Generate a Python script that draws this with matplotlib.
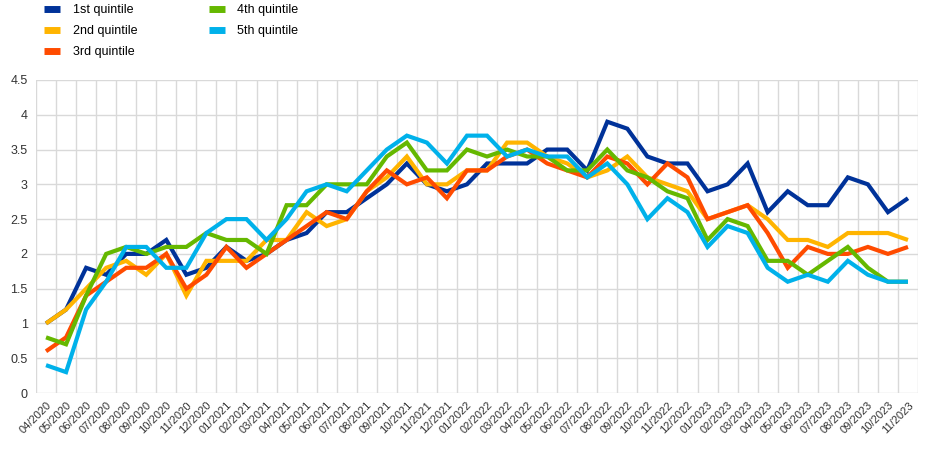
import numpy as np
import matplotlib
matplotlib.use("Agg")
import matplotlib.pyplot as plt
from matplotlib.lines import Line2D

plt.rcParams["font.family"] = ["Liberation Sans", "DejaVu Sans"]

# monthly labels 04/2020 .. 11/2023
months = []
for y in range(2020, 2024):
    for m in range(1, 13):
        if (y == 2020 and m < 4) or (y == 2023 and m > 11):
            continue
        months.append(f"{m:02d}/{y}")

q1 = [1.0, 1.2, 1.8, 1.7, 2.0, 2.0, 2.2, 1.7, 1.8, 2.1, 1.9, 2.0, 2.2, 2.3, 2.6,
      2.6, 2.8, 3.0, 3.3, 3.0, 2.9, 3.0, 3.3, 3.3, 3.3, 3.5, 3.5, 3.2, 3.9, 3.8,
      3.4, 3.3, 3.3, 2.9, 3.0, 3.3, 2.6, 2.9, 2.7, 2.7, 3.1, 3.0, 2.6, 2.8]
q2 = [1.0, 1.2, 1.5, 1.8, 1.9, 1.7, 2.0, 1.4, 1.9, 1.9, 1.9, 2.2, 2.2, 2.6, 2.4,
      2.5, 2.9, 3.1, 3.4, 3.0, 3.0, 3.2, 3.2, 3.6, 3.6, 3.4, 3.3, 3.1, 3.2, 3.4,
      3.1, 3.0, 2.9, 2.5, 2.6, 2.7, 2.5, 2.2, 2.2, 2.1, 2.3, 2.3, 2.3, 2.2]
q3 = [0.6, 0.8, 1.4, 1.6, 1.8, 1.8, 2.0, 1.5, 1.7, 2.1, 1.8, 2.0, 2.2, 2.4, 2.6,
      2.5, 2.9, 3.2, 3.0, 3.1, 2.8, 3.2, 3.2, 3.4, 3.5, 3.3, 3.2, 3.1, 3.4, 3.3,
      3.0, 3.3, 3.1, 2.5, 2.6, 2.7, 2.3, 1.8, 2.1, 2.0, 2.0, 2.1, 2.0, 2.1]
q4 = [0.8, 0.7, 1.4, 2.0, 2.1, 2.0, 2.1, 2.1, 2.3, 2.2, 2.2, 2.0, 2.7, 2.7, 3.0,
      3.0, 3.0, 3.4, 3.6, 3.2, 3.2, 3.5, 3.4, 3.5, 3.4, 3.4, 3.2, 3.2, 3.5, 3.2,
      3.1, 2.9, 2.8, 2.2, 2.5, 2.4, 1.9, 1.9, 1.7, 1.9, 2.1, 1.8, 1.6, 1.6]
q5 = [0.4, 0.3, 1.2, 1.6, 2.1, 2.1, 1.8, 1.8, 2.3, 2.5, 2.5, 2.2, 2.5, 2.9, 3.0,
      2.9, 3.2, 3.5, 3.7, 3.6, 3.3, 3.7, 3.7, 3.4, 3.5, 3.4, 3.4, 3.1, 3.3, 3.0,
      2.5, 2.8, 2.6, 2.1, 2.4, 2.3, 1.8, 1.6, 1.7, 1.6, 1.9, 1.7, 1.6, 1.6]

series = [
    ("1st quintile", q1, "#003299"),
    ("2nd quintile", q2, "#FFB400"),
    ("3rd quintile", q3, "#FF4B00"),
    ("4th quintile", q4, "#65B800"),
    ("5th quintile", q5, "#00B1EA"),
]

fig = plt.figure(figsize=(9.43, 4.49), dpi=100)
ax = fig.add_axes([36 / 943, 1 - 393 / 449, (918 - 36) / 943, (393 - 80) / 449])

x = np.arange(len(months))
# same order as the source: 5th quintile ends up on top
for name, vals, col in series:
    ax.plot(x, vals, color=col, linewidth=3.0, solid_joinstyle="miter",
            solid_capstyle="butt")

ax.set_xlim(-0.5, len(months) - 0.5)
ax.set_ylim(0, 4.5)
ax.set_yticks(np.arange(0, 4.51, 0.5))
ax.set_yticklabels([f"{v:g}" for v in np.arange(0, 4.51, 0.5)])
ax.set_xticks(x)
ax.set_xticklabels(months, rotation=45, ha="right", rotation_mode="anchor")
ax.set_xticks(np.arange(-0.5, len(months), 1), minor=True)

ax.tick_params(axis="both", which="both", length=0, labelsize=9, colors="#333333")
ax.tick_params(axis="x", labelsize=8, pad=5)
ax.tick_params(axis="y", pad=6)

ax.grid(True, axis="y", which="major", color="#d9d9d9", linewidth=1)
ax.grid(True, axis="x", which="minor", color="#d9d9d9", linewidth=1)
ax.set_axisbelow(True)
for s in ax.spines.values():
    s.set_visible(False)

handles = [Line2D([], [], color=c, linewidth=5, solid_capstyle="butt") for _, _, c in series]
labels = [n for n, _, _ in series]
fig.legend(handles, labels, loc="upper left", bbox_to_anchor=(44 / 943, 1 - 4 / 449),
           ncol=2, frameon=False, fontsize=9, borderpad=0, borderaxespad=0,
           handlelength=1.3, handletextpad=1.0, labelspacing=0.72, columnspacing=5.7)

fig.savefig("out.png", dpi=100)
